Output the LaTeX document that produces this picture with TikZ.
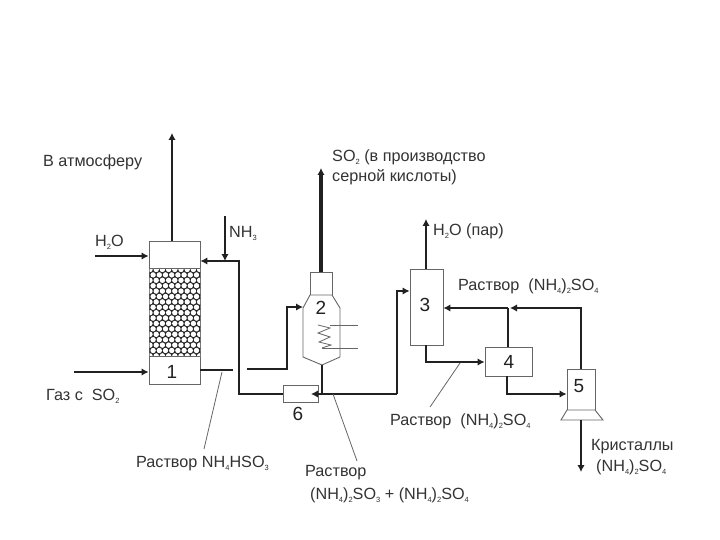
\documentclass[tikz,border=0pt]{standalone}
\usepackage{fontspec}
\setmainfont{Liberation Sans}
\usetikzlibrary{arrows.meta}
\definecolor{ink}{gray}{0.13}
\definecolor{txt}{gray}{0.2}
\definecolor{edge}{gray}{0.4}
\tikzset{
  pipe/.style={draw=ink,line width=2.7pt,line join=miter},
  flow/.style={pipe,-{Latex[length=7pt,width=7.5pt]}},
  vessel/.style={draw=edge,line width=0.9pt,fill=white,inner sep=0pt},
  thin/.style={draw=edge,line width=0.8pt},
  lab/.style={anchor=west,inner sep=0pt,text=txt,font=\fontsize{16.2}{18}\selectfont,align=left},
  num/.style={inner sep=0pt,text=ink,font=\fontsize{19}{21}\selectfont}
}
\newcommand{\sbs}[1]{\raisebox{-0.35ex}{\fontsize{7.5}{8}\selectfont #1}}
\begin{document}
\begin{tikzpicture}[x=1pt,y=-1pt]
\useasboundingbox (0,0) rectangle (720,540);
\fill[white] (0,0) rectangle (720,540);
% apparatus
\node[vessel,minimum width=51pt,minimum height=143pt] (c1) at (174.5,312.5) {};
\begin{scope}
  \clip (149.5,268) rectangle (200,356);
  \fill[ink] (149,268) rectangle (200,356);
  \foreach \r in {0,...,16}{
    \pgfmathsetmacro{\sh}{mod(\r,2)*3.1}
    \foreach \k in {-1,...,9}{
      \fill[white] (150+\k*6.2+\sh,269.5+\r*5.4) circle (2.7);
    }
  }
\end{scope}
\draw[vessel,fill=none] (149,268) -- (200,268) (149,356) -- (200,356);
\node[vessel,minimum width=22pt,minimum height=23pt] (top2) at (321,283.5) {};
\draw[vessel] (310,295) -- (303,308) -- (303,357) -- (322,365) -- (340,357) -- (340,308) -- (332,295) -- cycle;
\coordinate (base2) at (322,365);
\draw[thin] (318,325) -- (330,328) -- (318,333) -- (330,337) -- (319,342) -- (331,345) -- (322,348);
\draw[thin] (330,325) -- (358,325) (322,348) -- (358,348);
\node[vessel,minimum width=33pt,minimum height=76pt] (c3) at (426.5,307) {};
\node[vessel,minimum width=47pt,minimum height=29pt] (c4) at (508.5,361.5) {};
\node[vessel,minimum width=28pt,minimum height=41pt] (c5) at (581,389.5) {};
\draw[vessel] (567,410) -- (561,420) -- (603,420) -- (595,410) -- cycle;
\coordinate (base5) at (581,420);
\node[vessel,minimum width=35pt,minimum height=17pt] (c6) at (300.5,393.5) {};
% numbers
\node[num] (n1) at (172,372) {1};
\node[num] (n2) at (321,308) {2};
\node[num] (n3) at (425,305) {3};
\node[num] (n4) at (509,362) {4};
\node[num] (n5) at (579,386) {5};
\node[num] (n6) at (298,414) {6};
% free ends and bends
\coordinate (atm) at (172,133);
\coordinate (h2oin) at (95,256);
\coordinate (gasin) at (74,372);
\coordinate (nh3in) at (225,216);
\coordinate (ret) at (239,261);
\coordinate (ret2) at (239,394);
\coordinate (stub1) at (233,370);
\coordinate (stub2) at (247,369);
\coordinate (feed) at (287,307);
\coordinate (so2out) at (321,168);
\coordinate (junc6) at (323,394);
\coordinate (up3) at (397,394);
\coordinate (in3) at (397,291);
\coordinate (steam) at (426,219);
\coordinate (rec) at (581,308);
\coordinate (recm) at (508,308);
\coordinate (cryst) at (581,472);
\coordinate (d3) at (426,362);
\coordinate (d4) at (507,394);
% connectors
\draw[flow] (c1.north -| atm) -- (atm);
\draw[flow] (h2oin) -- (c1.west |- h2oin);
\draw[flow] (gasin) -- (c1.west |- gasin);
\draw[flow] (nh3in) -- (nh3in |- ret);
\draw[flow] (c6.west |- ret2) -- (ret2) -- (ret) -- (c1.east |- ret);
\draw[pipe] (c1.east |- stub1) -- (stub1);
\draw[flow] (stub2) -- (stub2 -| feed) -- (feed) -- (303,307);
\draw[flow,line width=3.6pt] (top2.north) -- (so2out);
\draw[pipe] (base2) -- (base2 |- junc6);
\draw[flow] (up3) -- (311,394);
\draw[flow] (up3) -- (in3) -- (c3.west |- in3);
\draw[flow] (c3.north -| steam) -- (steam);
\draw[flow] (c5.north -| rec) -- (rec) -- (510,308);
\draw[flow] (recm) -- (c3.east |- recm);
\draw[pipe] (c4.north -| recm) -- (recm);
\draw[flow] (c3.south -| d3) -- (d3) -- (c4.west |- d3);
\draw[flow] (c4.south -| d4) -- (d4) -- (c5.west |- d4);
\draw[flow] (base5) -- (cryst);
% leaders
\coordinate (l1a) at (222,372); \coordinate (l1b) at (204,449);
\coordinate (l2a) at (333,394); \coordinate (l2b) at (357,461);
\coordinate (l3a) at (460,363); \coordinate (l3b) at (430,407);
\draw[thin] (l1a) -- (l1b);
\draw[thin] (l2a) -- (l2b);
\draw[thin] (l3a) -- (l3b);
% labels
\node[lab] (t1) at (43,162) {В атмосферу};
\node[lab] (t2) at (95,242) {H\sbs{2}O};
\node[lab] (t3) at (229,233) {NH\sbs{3}};
\node[lab] (t4) at (46,396) {Газ с\ \ SO\sbs{2}};
\node[lab] (t5) at (136,464) {Раствор NH\sbs{4}HSO\sbs{3}};
\node[lab] (t6) at (332,157) {SO\sbs{2} (в производство};
\node[lab] (t7) at (332,177) {серной кислоты)};
\node[lab] (t8) at (433,231) {H\sbs{2}O (пар)};
\node[lab] (t9) at (458,286) {Раствор\ \ (NH\sbs{4})\sbs{2}SO\sbs{4}};
\node[lab] (t10) at (390,421) {Раствор\ \ (NH\sbs{4})\sbs{2}SO\sbs{4}};
\node[lab] (t11) at (591,447) {Кристаллы};
\node[lab] (t12) at (596,467) {(NH\sbs{4})\sbs{2}SO\sbs{4}};
\node[lab] (t13) at (305,473) {Раствор};
\node[lab] (t14) at (310,495) {(NH\sbs{4})\sbs{2}SO\sbs{3} + (NH\sbs{4})\sbs{2}SO\sbs{4}};
\end{tikzpicture}
\end{document}
